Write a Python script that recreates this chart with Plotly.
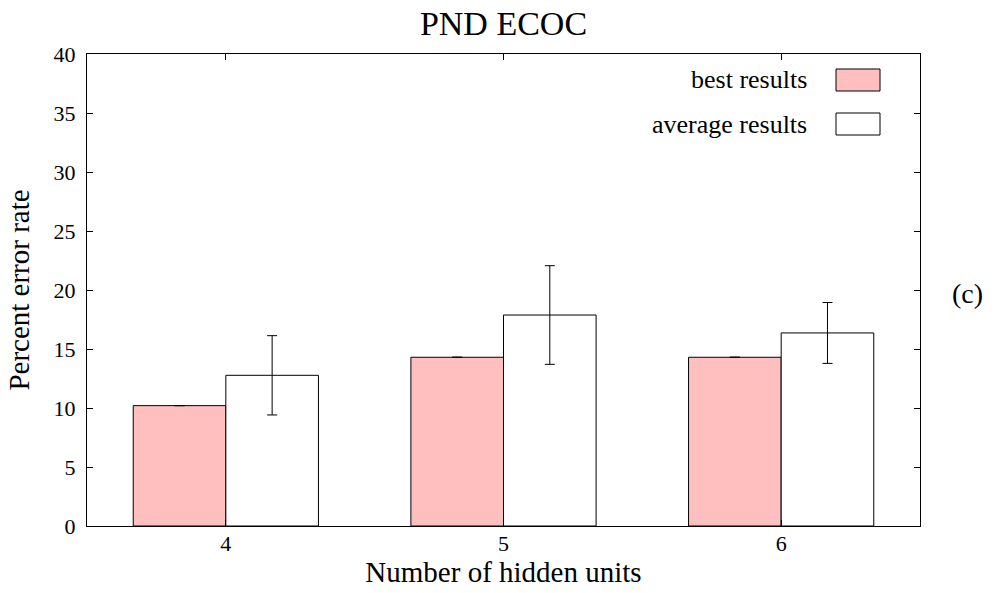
import plotly.graph_objects as go

categories = [4, 5, 6]
best_results = [10.2, 14.3, 14.3]
best_err = [0.0, 0.0, 0.0]
average_results = [12.77, 17.88, 16.36]
average_err = [3.36, 4.18, 2.58]
series_names = ["best results", "average results"]

FONT = "Liberation Serif, Times New Roman, serif"

W, H = 994, 593
L, R, T, B = 87, 74, 54, 67
PW, PH = W - L - R, H - T - B  # 833 x 472


def px(x):  # page x -> paper x
    return (x - L) / PW


def py(y):  # page y -> paper y
    return (H - B - y) / PH


fig = go.Figure()
fig.add_trace(go.Bar(
    x=categories, y=best_results, name=series_names[0],
    marker=dict(color="#ffbfbf", line=dict(color="black", width=1)),
    error_y=dict(type="data", array=best_err, color="black", thickness=1, width=5),
))
fig.add_trace(go.Bar(
    x=categories, y=average_results, name=series_names[1],
    marker=dict(color="white", line=dict(color="black", width=1)),
    error_y=dict(type="data", array=average_err, color="black", thickness=1, width=5),
))

fig.update_layout(
    width=W, height=H,
    margin=dict(l=L, r=R, t=T, b=B),
    paper_bgcolor="white", plot_bgcolor="white",
    barmode="group", bargap=0.333, bargroupgap=0,
    showlegend=False,
    font=dict(family=FONT, size=22, color="black"),
    title=dict(text="PND ECOC", x=503.5 / W, xanchor="center",
               y=1 - 23.5 / H, yanchor="middle",
               font=dict(family=FONT, size=34, color="black")),
)
fig.update_xaxes(
    range=[3.5, 6.5], tickvals=categories, ticktext=[str(c) for c in categories],
    ticks="inside", ticklen=6, tickcolor="black", showgrid=False, zeroline=False,
    showline=True, linecolor="black", linewidth=1, mirror="allticks",
    tickfont=dict(family=FONT, size=22), ticklabelstandoff=-2,
    title=dict(text="Number of hidden units", font=dict(family=FONT, size=29), standoff=2),
)
fig.update_yaxes(
    range=[0, 40], dtick=5, tick0=0,
    ticks="inside", ticklen=6, tickcolor="black", showgrid=False, zeroline=False,
    showline=True, linecolor="black", linewidth=1, mirror="allticks",
    tickfont=dict(family=FONT, size=22), ticklabelstandoff=6,
    title=dict(text="Percent error rate", font=dict(family=FONT, size=29), standoff=15),
)

# Legend drawn gnuplot-style (text right-aligned, key box on the right)
legend_fills = ["#ffbfbf", "white"]
legend_y = [80, 124]
for name, fill, yc in zip(series_names, legend_fills, legend_y):
    fig.add_annotation(text=name, xref="paper", yref="paper",
                       x=px(809), y=py(yc),
                       xanchor="right", yanchor="middle", showarrow=False,
                       font=dict(family=FONT, size=26, color="black"))
    fig.add_shape(type="rect", xref="paper", yref="paper",
                  x0=px(836), x1=px(880),
                  y0=py(yc + 11), y1=py(yc - 11),
                  fillcolor=fill, line=dict(color="black", width=1))

fig.add_annotation(text="(c)", xref="paper", yref="paper",
                   x=px(967), y=py(293),
                   xanchor="center", yanchor="middle", showarrow=False,
                   font=dict(family=FONT, size=28, color="black"))

# remove the browser's default 8px body margin so the figure fills the window
fig.write_html("out.html",
               config={"displayModeBar": False},
               post_script="document.body.style.margin='0';"
                           "document.body.style.overflow='hidden';")
